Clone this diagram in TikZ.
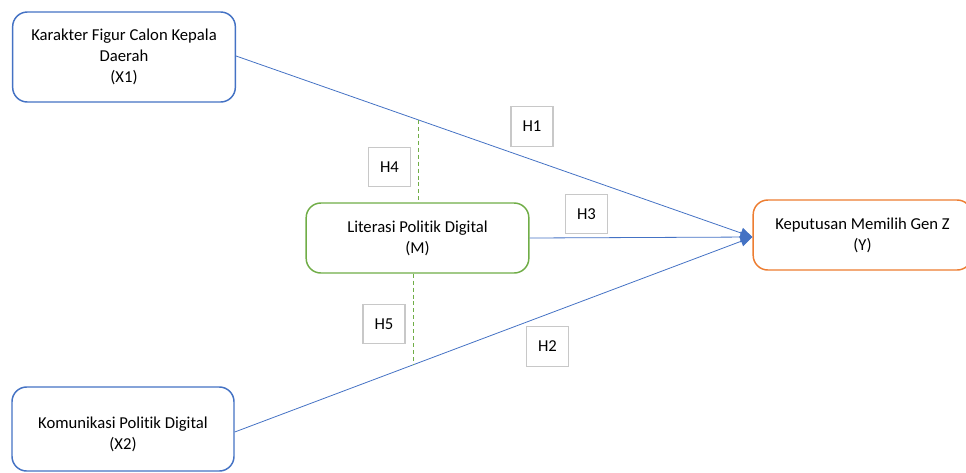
\documentclass[tikz,border=0pt]{standalone}
\usepackage{fontspec}
\setmainfont[Ligatures=NoCommon]{Carlito}
\usetikzlibrary{arrows.meta,calc}
\definecolor{cblue}{HTML}{4472C4}
\definecolor{cgreen}{HTML}{70AD47}
\definecolor{corange}{HTML}{ED7D31}
\definecolor{cgray}{HTML}{C8C8C8}
\begin{document}
\begin{tikzpicture}[x=0.75pt,y=-0.75pt,
  varfont/.style={font=\fontsize{12.5pt}{15.7pt}\selectfont, align=center, inner sep=0pt},
  varbox/.style={varfont, draw, line width=1.1pt, rounded corners=11pt, fill=white},
  hbox/.style={draw=cgray, line width=0.8pt, minimum width=31.5pt, minimum height=29.5pt,
    inner sep=0pt, font=\fontsize{12.5pt}{14pt}\selectfont, fill=white},
  conn/.style={draw=cblue, line width=0.6pt, -{Triangle[length=9pt,width=8pt]}},
  greendash/.style={draw=cgreen, line width=0.7pt, dash pattern=on 3pt off 2.2pt}]
\useasboundingbox (0,0) rectangle (966,472);
\node[varbox, draw=cblue, minimum width=167pt, minimum height=67.5pt] (X1) at (124,57)
  {Karakter Figur Calon Kepala\\Daerah\\(X1)};
\node[varbox, draw=cblue, minimum width=166.5pt, minimum height=63pt] (X2) at (123,429) {};
\node[varfont] (X2t) at ($(X2.center)+(0,5)$) {Komunikasi Politik Digital\\(X2)};
\node[varbox, draw=corange, minimum width=164pt, minimum height=52.5pt] (Y) at (862.5,235)
  {Keputusan Memilih Gen Z\\(Y)};
\node[varbox, draw=cgreen, minimum width=167pt, minimum height=52.5pt] (M) at (417.5,238)
  {Literasi Politik Digital\\(M)};
\coordinate (T) at ($(Y.west)+(0,2)$);
\coordinate (S1) at ($(X1.east)+(0,-1)$);
\coordinate (S2) at ($(X2.east)+(0,3)$);
\draw[conn] (S1) -- (T);
\draw[conn] (S2) -- (T);
\draw[conn] (M.east) -- (T);
\coordinate (h4top) at ($(S1)!0.354!(T)$);
\coordinate (h5bot) at ($(S2)!0.345!(T)$);
\draw[greendash] (h4top) -- (h4top |- M.north);
\draw[greendash] (M.south -| h5bot) -- (h5bot);
\node[hbox] (H1) at (532,126.5) {H1};
\node[hbox] (H3) at (586.5,214) {H3};
\node[hbox] (H4) at (389.5,167) {H4};
\node[hbox] (H5) at (384,324) {H5};
\node[hbox] (H2) at (547.5,346.5) {H2};
\end{tikzpicture}
\end{document}
